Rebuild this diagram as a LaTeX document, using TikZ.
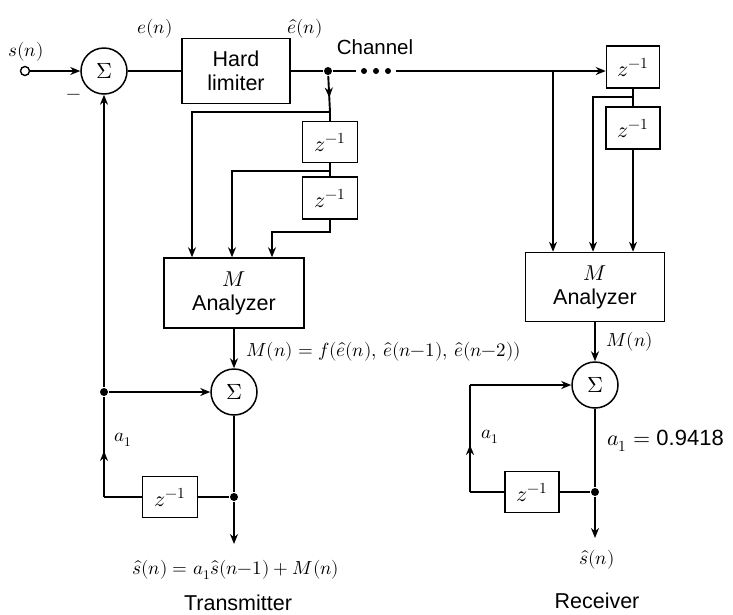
\documentclass[tikz,border=0pt]{standalone}
\usepackage{unicode-math}
\setmainfont{Liberation Sans}
\setmathfont{Latin Modern Math}
\usetikzlibrary{arrows.meta,decorations.markings}
\begin{document}
\begin{tikzpicture}[x=1pt,y=-1pt, line width=1.9pt,
  >={Stealth[length=10pt,width=8pt]},
  every node/.style={font=\fontsize{19}{22}\selectfont},
  sans/.style={font=\fontsize{20.5}{23}\selectfont},
  bigsans/.style={font=\fontsize{21.5}{24}\selectfont},
  blk/.style={draw, line width=1.5pt, minimum width=54pt, minimum height=41pt, inner sep=0pt, font=\fontsize{22}{24}\selectfont},
  bigblk/.style={draw, line width=1.5pt, align=center, inner sep=0pt, font=\fontsize{21.5}{24}\selectfont},
  sumc/.style={draw, circle, line width=1.5pt, minimum size=46pt, inner sep=0pt, font=\fontsize{22}{24}\selectfont},
  jdot/.style={circle, fill, inner sep=0pt, minimum size=8pt},
  cdot/.style={circle, fill, inner sep=0pt, minimum size=6pt},
  midarr/.style={postaction={decorate}, decoration={markings, mark=at position #1 with {\arrow{>}}}}]
\useasboundingbox (0,0) rectangle (733,614);
% ---------------- transmitter ----------------
\node[circle, draw, line width=1.4pt, minimum size=9pt, inner sep=0pt] (in) at (25,71) {};
\node (sn) at (26,52) {$s(n)$};
\node[sumc] (s1) at (104,71) {$\Sigma$};
\node (minus) at (74,97) {$-$};
\node[bigblk, minimum width=108pt, minimum height=65pt] (hl) at (236,71) {Hard\\limiter};
\node (en) at (155,29) {$e(n)$};
\node (ehn) at (305,29) {$\hat{e}(n)$};
\node[jdot] (d1) at (328,71) {};
\node[sans] (ch) at (375,47) {Channel};
\coordinate (cha) at (356,71);
\node[cdot] (c1) at (364,71) {};
\node[cdot] (c2) at (376,71) {};
\node[cdot] (c3) at (388,71) {};
\coordinate (chb) at (396,71);

\node[blk, minimum width=55pt] (t1) at (330,142) {$z^{-1}$};
\node[blk, minimum width=55pt, minimum height=42pt] (t2) at (330,198) {$z^{-1}$};
\coordinate (j1) at (330,112);
\coordinate (j2) at (330,171);
\node[bigblk, minimum width=140pt, minimum height=70pt] (an1) at (234,293) {$M$\\Analyzer};
\node[sumc] (s2) at (234,392) {$\Sigma$};
\node[anchor=west] (mlab) at (242,352) {$M(n) = f(\hat{e}(n),\,\hat{e}(n{-}1),\,\hat{e}(n{-}2))$};
\node[jdot] (d2) at (104,392) {};
\node[jdot] (d3) at (234,497) {};
\node[blk, minimum width=55pt] (t3) at (170,497) {$z^{-1}$};
\coordinate (c4) at (104,497);
\coordinate (o1) at (234,544);
\node (a1t) at (123,440) {$a_1$};
\node (eqt) at (236,570) {$\hat{s}(n) = a_1\hat{s}(n{-}1) + M(n)$};
\node[bigsans] (tx) at (238,603) {Transmitter};

% ---------------- receiver nodes ----------------
\node[blk, minimum width=53pt, minimum height=42pt] (r1) at (633,67) {$z^{-1}$};
\node[blk, minimum height=42pt] (r2) at (633,128) {$z^{-1}$};
\coordinate (jr) at (553,71);
\coordinate (jr2) at (633,97);
\node[bigblk, minimum width=139pt, minimum height=69pt] (an2) at (595,287) {$M$\\Analyzer};
\node[sumc] (sr) at (595,385) {$\Sigma$};
\node[anchor=west] (mr) at (602,342) {$M(n)$};
\node[blk] (r3) at (532,492) {$z^{-1}$};
\node[jdot] (dr) at (595,492) {};
\coordinate (cr) at (470,492);
\coordinate (cr2) at (470,385);
\coordinate (or) at (595,538);
\node (a1r) at (490,437) {$a_1$};
\node[anchor=west, font=\fontsize{22}{24}\selectfont] (a1v) at (603,441) {$a_1 =$ 0.9418};
\node (shr) at (597,560) {$\hat{s}(n)$};
\node[bigsans] (rx) at (597,601) {Receiver};

% ---------------- transmitter connectors ----------------
\draw[->] (in) -- (s1);
\draw (s1) -- (hl);
\draw (hl.east |- d1) -- (d1);
\draw (d1) -- (cha);
\draw[->] (chb) -- (chb -| r1.west);
\draw[midarr=0.6] (d1) -- (j1);
\draw (j1) -- (t1.north);
\draw[->] (j1) -| ([xshift=-42pt]an1.north);
\draw (t1.south) -- (t2.north);
\draw[->] (j2) -| ([xshift=-2pt]an1.north);
\draw[->] (t2.south) -- ++(0,12) -| ([xshift=38pt]an1.north);
\draw[->] (an1.south) -- (s2.north);
\draw[->] (d2) -- (s2.west);
\draw[->] (d2) -- (s1.south);
\draw (s2.south) -- (d3);
\draw (d3) -- (t3.east);
\draw (t3.west) -- (c4);
\draw[midarr=0.46] (c4) -- (d2);
\draw[->] (d3) -- (o1);

% ---------------- receiver connectors ----------------
\draw[->] (jr) -- (jr |- an2.north);
\draw (r1.south) -- (r2.north);
\draw[->] (jr2) -| ([xshift=-2pt]an2.north);
\draw[->] (r2.south) -- (r2.south |- an2.north);
\draw[->] (an2.south) -- (sr.north);
\draw (sr.south) -- (dr);
\draw (dr) -- (r3.east);
\draw (r3.west) -- (cr);
\draw[midarr=0.44] (cr) -- (cr2);
\draw[->] (cr2) -- (sr.west);
\draw[->] (dr) -- (or);
\end{tikzpicture}
\end{document}
